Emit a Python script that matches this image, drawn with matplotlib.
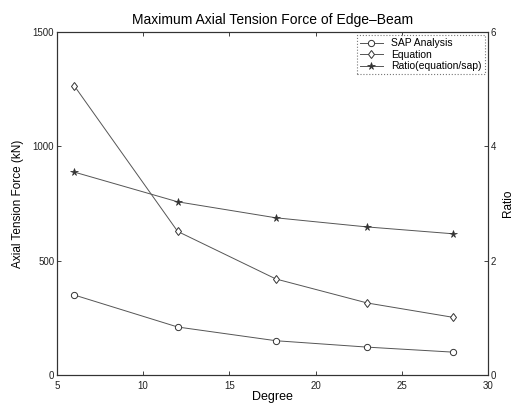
import numpy as np
import matplotlib.pyplot as plt

plt.rcParams['font.family'] = ['Liberation Sans', 'DejaVu Sans']

# data
degree = [6, 12, 17.7, 23, 28]
sap = [350, 210, 150, 122, 100]
equation = [1265, 628, 420, 315, 252]
ratio = [3.55, 3.03, 2.75, 2.59, 2.47]

fig = plt.figure(figsize=(5.18, 4.05), dpi=100)
ax = fig.add_axes([0.110, 0.074, 0.832, 0.847])
ax2 = ax.twinx()

lc = '#555555'
l1, = ax.plot(degree, sap, color=lc, lw=0.7, marker='o', ms=4.5, mfc='white', mec='#333333', mew=0.7, label='SAP Analysis')
l2, = ax.plot(degree, equation, color=lc, lw=0.7, marker='d', ms=4.5, mfc='white', mec='#333333', mew=0.7, label='Equation')
l3, = ax2.plot(degree, ratio, color=lc, lw=0.7, marker='*', ms=5.5, mfc='#333333', mec='#333333', mew=0.5, label='Ratio(equation/sap)')

ax.set_xlim(5, 30)
ax.set_ylim(0, 1500)
ax2.set_ylim(0, 6)
ax.set_xticks([5, 10, 15, 20, 25, 30])
ax.set_yticks([0, 500, 1000, 1500])
ax2.set_yticks([0, 2, 4, 6])
ax.tick_params(top=True)

for a in (ax, ax2):
    a.tick_params(direction='in', labelsize=7, length=3, width=0.6, colors='#222222', pad=2)
    for s in a.spines.values():
        s.set_linewidth(0.8)
        s.set_color('#333333')
ax.tick_params(axis='x', pad=4)

ax.set_title('Maximum Axial Tension Force of Edge\u2013Beam', fontsize=10, pad=6)
ax.set_xlabel('Degree', fontsize=9, labelpad=0)
ax.set_ylabel('Axial Tension Force (kN)', fontsize=8.5, labelpad=6)
ax2.set_ylabel('Ratio', fontsize=8.5, labelpad=4)

leg = ax2.legend(handles=[l1, l2, l3], loc='upper right', fontsize=7.5, frameon=True,
                 fancybox=False, borderaxespad=0.3, handlelength=2.2, labelspacing=0.15,
                 borderpad=0.3)
leg.get_frame().set_edgecolor('#555555')
leg.get_frame().set_linestyle(':')
leg.get_frame().set_linewidth(0.8)

fig.savefig('out.png', dpi=100)
